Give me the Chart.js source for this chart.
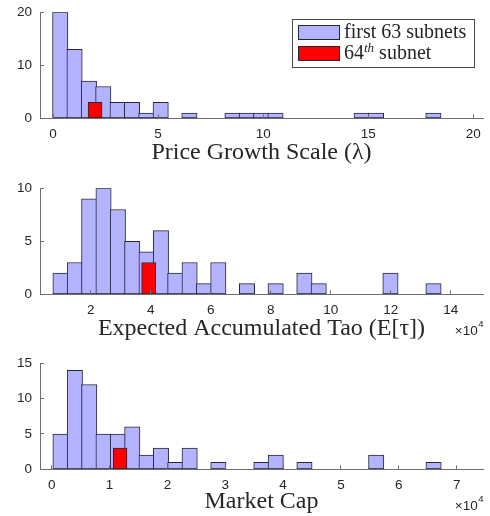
<!DOCTYPE html>
<html>
<head>
<meta charset="utf-8">
<script src="https://cdn.jsdelivr.net/npm/chart.js@4/dist/chart.umd.min.js"></script>
<style>
  html, body { margin: 0; padding: 0; background: #fff; }
  body { width: 490px; height: 516px; position: relative; overflow: hidden; }
  .panel { position: absolute; left: 0; width: 490px; }
</style>
</head>
<body>
<div class="panel" style="top:0;height:170px"><canvas id="lambdaChart"></canvas></div>
<div class="panel" style="top:170px;height:175px"><canvas id="taoChart"></canvas></div>
<div class="panel" style="top:345px;height:171px"><canvas id="capChart"></canvas></div>
<script>
// ---------- Price growth scale (lambda) ----------
const lambdaEdges = [0, 0.683, 1.366, 2.049, 2.732, 3.415, 4.098, 4.781, 5.464, 6.147, 6.830,
  7.513, 8.196, 8.879, 9.562, 10.245, 10.928, 11.611, 12.294, 12.977, 13.660, 14.343,
  15.026, 15.709, 16.392, 17.075, 17.758, 18.441];
const lambdaCounts = [20, 13, 7, 6, 3, 3, 1, 3, 0, 1, 0, 0, 1, 1, 1, 1, 0, 0, 0, 0, 0, 1, 1, 0, 0, 0, 1];
const lambdaSubnet64Bin = [1.667, 2.333];
const lambdaSubnet64Count = 3;
const lambdaXTicks = [0, 5, 10, 15, 20];
const lambdaYTicks = [0, 10, 20];

// ---------- Expected accumulated Tao ----------
const taoEdges = [7550, 12332, 17114, 21896, 26678, 31460, 36242, 41024, 45806, 50588, 55370,
  60152, 64934, 69716, 74498, 79280, 84062, 88844, 93626, 98408, 103190, 107972, 112754,
  117536, 122318, 127100, 131882, 136664];
const taoCounts = [2, 3, 9, 10, 8, 5, 4, 6, 2, 3, 1, 3, 0, 1, 0, 1, 0, 2, 1, 0, 0, 0, 0, 2, 0, 0, 1];
const taoSubnet64Bin = [37000, 41670];
const taoSubnet64Count = 3;
const taoXTicks = [20000, 40000, 60000, 80000, 100000, 120000, 140000];
const taoYTicks = [0, 5, 10];

// ---------- Market cap ----------
const capEdges = [287, 2767, 5247, 7727, 10207, 12687, 15167, 17647, 20127, 22607, 25087,
  27567, 30047, 32527, 35007, 37487, 39967, 42447, 44927, 47407, 49887, 52367, 54847,
  57327, 59807, 62287, 64767, 67247];
const capCounts = [5, 14, 12, 5, 5, 6, 2, 3, 1, 3, 0, 1, 0, 0, 1, 2, 0, 1, 0, 0, 0, 0, 2, 0, 0, 0, 1];
const capSubnet64Bin = [10660, 13020];
const capSubnet64Count = 3;
const capXTicks = [0, 10000, 20000, 30000, 40000, 50000, 60000, 70000];
const capYTicks = [0, 5, 10, 15];

const seriesLabels = ['first 63 subnets', '64th subnet'];

// ---------- styling ----------
const BAR_FILL = 'rgb(179,179,255)';
const BAR_EDGE = 'rgb(38,38,58)';
const RED_FILL = 'rgb(255,0,0)';
const AXIS_COLOR = '#6e6e6e';
const TEXT_COLOR = '#262626';
const SANS = '"Liberation Sans", Arial, Helvetica, sans-serif';
const SERIF = '"Liberation Serif", "Times New Roman", serif';

// Each bar spans its histogram bin: thickness follows the x scale after layout
const binWidths = {
  id: 'binWidths',
  beforeDatasetsUpdate(chart) {
    const xs = chart.scales.x;
    chart.data.datasets.forEach(d => {
      const w = Math.abs(xs.getPixelForValue(d.binSpan[1]) - xs.getPixelForValue(d.binSpan[0]));
      d.barThickness = w + (d.edgeOverlap || 0);
    });
  }
};

// Boxed legend placed in the upper-right corner of the plot area
const boxLegend = {
  id: 'boxLegend',
  afterDraw(chart, args, o) {
    if (!o.display) return;
    const { ctx, chartArea } = chart;
    const sets = chart.data.datasets;
    const mainFont = o.size + 'px ' + SERIF;
    const supFont = 'italic ' + o.supSize + 'px ' + SERIF;
    const parts = (label) => {
      const m = label.match(/^(\d+)(st|nd|rd|th)(.*)$/);
      return m ? [m[1], m[2], m[3]] : [label, '', ''];
    };
    const measure = (label) => {
      const [a, s, b] = parts(label);
      ctx.font = mainFont;
      let w = ctx.measureText(a).width + ctx.measureText(b).width;
      ctx.font = supFont;
      w += s ? ctx.measureText(s).width : 0;
      return w;
    };
    ctx.save();
    const textW = Math.max(...sets.map(d => measure(d.label)));
    const pad = 6, swW = 42, swH = 15, pitch = 21, gap = 4;
    const w = Math.round(pad + swW + gap + textW + pad + 2);
    const h = pad * 2 + pitch * (sets.length - 1) + swH;
    const left = Math.round(chartArea.right - o.insetRight - w);
    const top = Math.round(chartArea.top + o.insetTop);
    ctx.fillStyle = '#fff';
    ctx.fillRect(left, top, w, h);
    ctx.strokeStyle = '#4a4a4a';
    ctx.lineWidth = 1;
    ctx.strokeRect(left + 0.5, top + 0.5, w, h);
    sets.forEach((d, i) => {
      const sy = top + pad + i * pitch;
      const sx = left + pad;
      ctx.fillStyle = d.backgroundColor;
      ctx.fillRect(sx, sy, swW, swH);
      ctx.strokeStyle = d.borderColor;
      ctx.strokeRect(sx + 0.5, sy + 0.5, swW - 1, swH - 1);
      const [a, s, b] = parts(d.label);
      const base = sy + swH - 2;
      let x = sx + swW + gap;
      ctx.fillStyle = TEXT_COLOR;
      ctx.textAlign = 'left';
      ctx.textBaseline = 'alphabetic';
      ctx.font = mainFont;
      ctx.fillText(a, x, base);
      x += ctx.measureText(a).width;
      if (s) {
        ctx.font = supFont;
        ctx.fillText(s, x, base - o.raise);
        x += ctx.measureText(s).width;
      }
      ctx.font = mainFont;
      ctx.fillText(b, x, base);
    });
    ctx.restore();
  }
};

// Axis multiplier written under the right end of the x axis
const exponentLabel = {
  id: 'exponentLabel',
  afterDraw(chart, args, o) {
    if (!o.display) return;
    const { ctx, chartArea } = chart;
    ctx.save();
    ctx.fillStyle = TEXT_COLOR;
    ctx.textBaseline = 'alphabetic';
    ctx.font = o.supSize + 'px ' + SANS;
    const supW = ctx.measureText(o.power).width;
    const xr = chartArea.right + o.dx;
    const yb = chartArea.bottom + o.dy;
    ctx.textAlign = 'left';
    ctx.fillText(o.power, xr - supW, yb - o.raise);
    ctx.font = o.size + 'px ' + SANS;
    ctx.textAlign = 'right';
    ctx.fillText(o.base, xr - supW - 0.5, yb);
    ctx.restore();
  }
};

function histogramPanel(canvasId, p) {
  const centers = p.edges.slice(0, -1).map((e, i) => (e + p.edges[i + 1]) / 2);
  const bars = centers.map((x, i) => ({ x, y: p.counts[i] }));
  const redCenter = (p.redBin[0] + p.redBin[1]) / 2;
  const tickMarks = { drawOnChartArea: false, drawTicks: true, tickLength: -4, color: AXIS_COLOR, lineWidth: 1, offset: false, z: 1 };
  const axisLine = { display: true, color: AXIS_COLOR, width: 1, z: 1 };

  return new Chart(document.getElementById(canvasId), {
    type: 'bar',
    data: {
      datasets: [
        {
          label: seriesLabels[0], data: bars, grouped: false,
          binSpan: [p.edges[0], p.edges[1]], edgeOverlap: 1,
          backgroundColor: BAR_FILL, borderColor: BAR_EDGE, borderWidth: 1, borderSkipped: false,
          order: 1
        },
        {
          label: seriesLabels[1], data: [{ x: redCenter, y: p.redCount }], grouped: false,
          binSpan: p.redBin, edgeOverlap: 0,
          backgroundColor: RED_FILL, borderColor: BAR_EDGE, borderWidth: 1, borderSkipped: false,
          order: 0
        }
      ]
    },
    options: {
      responsive: true,
      maintainAspectRatio: false,
      animation: false,
      devicePixelRatio: 1,
      layout: { padding: { top: p.padTop, right: 7, bottom: 0, left: 0 } },
      plugins: {
        legend: { display: false },
        tooltip: { enabled: false },
        boxLegend: { display: !!p.legend, size: 20, supSize: 13, raise: 7, insetRight: 9, insetTop: 6.7 },
        exponentLabel: { display: !!p.exponent, base: '×10', power: '4', size: 13.5, supSize: 9.5, raise: 8, dx: 0.5, dy: 41 }
      },
      scales: {
        x: {
          type: 'linear', position: 'bottom', min: p.xMin, max: p.xMax, offset: false,
          afterBuildTicks: s => { s.ticks = p.xTicks.map(v => ({ value: v })); },
          afterFit: s => { s.height = p.xAxisHeight; s.paddingLeft = 0; s.paddingRight = 0; },
          grid: tickMarks,
          border: axisLine,
          ticks: {
            padding: 11.4, color: TEXT_COLOR, font: { family: SANS, size: 13.5 },
            maxRotation: 0, autoSkip: false,
            callback: v => String(v / p.scaleDiv)
          },
          title: {
            display: true, text: p.title, color: TEXT_COLOR,
            font: { family: SERIF, size: 24, lineHeight: 1.2 },
            padding: { top: 0, bottom: p.titlePad }
          }
        },
        y: {
          type: 'linear', min: 0, max: p.yMax,
          afterBuildTicks: s => { s.ticks = p.yTicks.map(v => ({ value: v })); },
          afterFit: s => { s.width = 40; s.paddingTop = 0; s.paddingBottom = 0; },
          grid: tickMarks,
          border: axisLine,
          ticks: { padding: 12, color: TEXT_COLOR, font: { family: SANS, size: 13.5 }, callback: v => String(v) }
        }
      }
    },
    plugins: [binWidths, boxLegend, exponentLabel]
  });
}

histogramPanel('lambdaChart', {
  edges: lambdaEdges, counts: lambdaCounts, redBin: lambdaSubnet64Bin, redCount: lambdaSubnet64Count,
  xTicks: lambdaXTicks, yTicks: lambdaYTicks, xMin: -0.62, xMax: 20.46, yMax: 20, scaleDiv: 1,
  title: 'Price Growth Scale (λ)', padTop: 12.3, xAxisHeight: 51.7, titlePad: 3, legend: true, exponent: false
});

histogramPanel('taoChart', {
  edges: taoEdges, counts: taoCounts, redBin: taoSubnet64Bin, redCount: taoSubnet64Count,
  xTicks: taoXTicks, yTicks: taoYTicks, xMin: 3110, xMax: 150780, yMax: 10, scaleDiv: 10000,
  title: 'Expected Accumulated Tao (E[τ])', padTop: 18.3, xAxisHeight: 50.7, titlePad: 2, legend: false, exponent: true
});

histogramPanel('capChart', {
  edges: capEdges, counts: capCounts, redBin: capSubnet64Bin, redCount: capSubnet64Count,
  xTicks: capXTicks, yTicks: capYTicks, xMin: -2017, xMax: 74547, yMax: 15, scaleDiv: 10000,
  title: 'Market Cap', padTop: 18.3, xAxisHeight: 46.7, titlePad: 0, legend: false, exponent: true
});
</script>
</body>
</html>
